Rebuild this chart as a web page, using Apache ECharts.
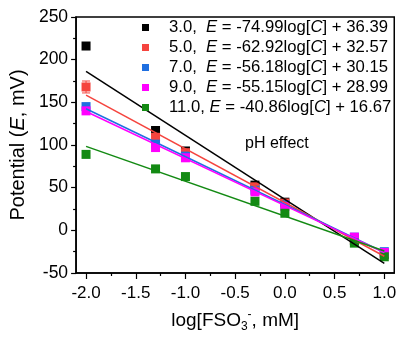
<!DOCTYPE html>
<html>
<head>
<meta charset="utf-8">
<script src="https://cdn.jsdelivr.net/npm/echarts@6/dist/echarts.min.js"></script>
<style>
  html, body { margin: 0; padding: 0; background: #fff; }
  #main { width: 399px; height: 338px; }
</style>
</head>
<body>
<div id="main"></div>
<script>
// log of concentration (mM)
const logC = [-2, -1.301, -1, -0.301, 0, 0.699, 1];
const phLabels = ['3.0', '5.0', '7.0', '9.0', '11.0'];
const pH3 = [216, 117, 93, 53, 33, -12, -28];
const pH5 = [168, 109, 91, 51, 32, -10, -27];
const pH7 = [145, 101, 87, 47, 30, -8, -25];
const pH9 = [140, 97, 85, 45, 28, -8, -26];
const pH11 = [89, 72, 63, 34, 20, -15, -31];
// fitted lines, drawn between x = -2 and x = 1
const fitX = [-2, 1];
const fit3 = [186.4, -38.6];
const fit5 = [158.4, -30.4];
const fit7 = [142.5, -26.0];
const fit9 = [139.3, -26.2];
const fit11 = [98.4, -24.2];
const slopes = ['-74.99', '-62.92', '-56.18', '-55.15', '-40.86'];
const intercepts = ['36.39', '32.57', '30.15', '28.99', '16.67'];
// error bars [x, low, high]
const errBars = [[-2, 161, 175]];
const xTicks = [-2, -1.5, -1, -0.5, 0, 0.5, 1];
const xMinor = [-1.75, -1.25, -0.75, -0.25, 0.25, 0.75];

const colors = ['#000000', '#f5443e', '#1f6fe0', '#ff00ff', '#138a13'];
const allPoints = [pH3, pH5, pH7, pH9, pH11];
const allFits = [fit3, fit5, fit7, fit9, fit11];
const font = 'Liberation Sans, Arial, sans-serif';

let chartDom = document.getElementById('main');
let myChart = echarts.init(chartDom);
let series = [];
phLabels.forEach((ph, k) => {
  series.push({
    name: 'fit' + ph,
    type: 'line',
    showSymbol: false,
    silent: true,
    data: fitX.map((x, i) => [x, allFits[k][i]]),
    lineStyle: { color: colors[k], width: 1.5 },
    itemStyle: { color: colors[k] },
  });
});
series.push({
  name: 'err',
  type: 'custom',
  data: errBars,
  renderItem: function (params, api) {
    let top = api.coord([api.value(0), api.value(2)]);
    let bot = api.coord([api.value(0), api.value(1)]);
    let w = 4;
    let st = { stroke: colors[1], lineWidth: 1 };
    return {
      type: 'group',
      children: [
        { type: 'line', shape: { x1: top[0], y1: top[1], x2: bot[0], y2: bot[1] }, style: st },
        { type: 'line', shape: { x1: top[0] - w, y1: top[1], x2: top[0] + w, y2: top[1] }, style: st },
        { type: 'line', shape: { x1: bot[0] - w, y1: bot[1], x2: bot[0] + w, y2: bot[1] }, style: st },
      ],
    };
  },
});
phLabels.forEach((ph, k) => {
  series.push({
    name: ph,
    type: 'scatter',
    symbol: 'rect',
    symbolSize: 9,
    data: logC.map((x, i) => [x, allPoints[k][i]]),
    itemStyle: { color: colors[k], opacity: 1 },
  });
});
// minor x ticks on a second, label-less axis
series.push({ type: 'line', xAxisIndex: 1, data: [], silent: true });

let option = {
  animation: false,
  textStyle: { fontFamily: font },
  grid: {
    left: 72, top: 17, right: 4, bottom: 61,
    show: true, borderColor: '#000', borderWidth: 1.5,
  },
  legend: {
    orient: 'vertical',
    left: 142,
    top: 19,
    padding: 0,
    itemGap: 3,
    itemWidth: 7,
    itemHeight: 7,
    icon: 'rect',
    data: phLabels,
    formatter: function (name) {
      let k = phLabels.indexOf(name);
      let sp = name.length > 3 ? ' ' : '  ';
      return '{n|' + name + ',}' + sp + '{i|E} = ' + slopes[k] + 'log[{i|C}] + ' + intercepts[k];
    },
    textStyle: {
      fontSize: 16.7,
      lineHeight: 17,
      color: '#000',
      rich: {
        n: { fontSize: 16.7, padding: [0, 0, 0, 15] },
        i: { fontSize: 16.7, fontStyle: 'italic' },
      },
    },
  },
  graphic: [
    {
      type: 'text',
      left: 245,
      top: 136,
      style: { text: 'pH effect', fontSize: 16, fill: '#000', fontFamily: font },
    },
  ],
  xAxis: [
    {
      type: 'value',
      min: -2.1,
      max: 1.1,
      splitLine: { show: false },
      axisLine: { onZero: false, lineStyle: { color: '#000', width: 1.5 } },
      axisTick: { customValues: xTicks, inside: false, length: 6, lineStyle: { color: '#000', width: 1.2 } },
      axisLabel: {
        customValues: xTicks,
        margin: 12,
        fontSize: 17,
        color: '#000',
        formatter: (v) => v.toFixed(1),
      },
      name: 'log[FSO{sub|3}{sup|-}, mM]',
      nameLocation: 'middle',
      nameGap: 36,
      nameTextStyle: {
        fontSize: 19,
        color: '#000',
        lineHeight: 24,
        rich: {
          sub: { fontSize: 12, verticalAlign: 'bottom', lineHeight: 12 },
          sup: { fontSize: 12, verticalAlign: 'top', lineHeight: 12 },
        },
      },
    },
    {
      type: 'value',
      min: -2.1,
      max: 1.1,
      position: 'bottom',
      splitLine: { show: false },
      axisLine: { show: false, onZero: false },
      axisTick: { customValues: xMinor, length: 3, lineStyle: { color: '#000', width: 1.2 } },
      axisLabel: { show: false },
    },
  ],
  yAxis: {
    type: 'value',
    min: -50,
    max: 250,
    interval: 50,
    splitLine: { show: false },
    axisLine: { show: true, onZero: false, lineStyle: { color: '#000', width: 1.5 } },
    axisTick: { show: true, length: 5, lineStyle: { color: '#000', width: 1.2 } },
    minorTick: { show: true, splitNumber: 2, length: 3, lineStyle: { color: '#000', width: 1.2 } },
    axisLabel: { margin: 8, fontSize: 17.5, color: '#000' },
    name: 'Potential ({i|E}, mV)',
    nameLocation: 'middle',
    nameRotate: 90,
    nameGap: 47,
    nameTextStyle: {
      fontSize: 20,
      color: '#000',
      rich: { i: { fontSize: 20, fontStyle: 'italic' } },
    },
  },
  series: series,
};
option && myChart.setOption(option);
</script>
</body>
</html>
